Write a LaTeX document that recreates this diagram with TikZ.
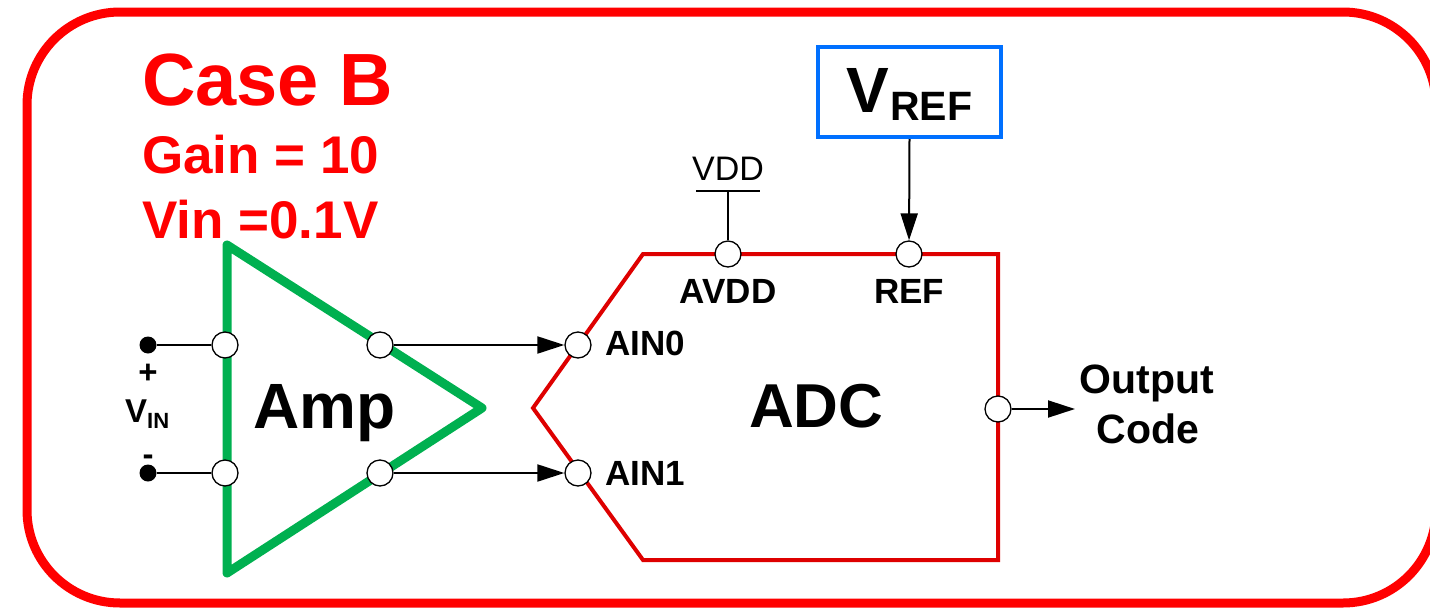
\documentclass[tikz,border=0pt]{standalone}
\usepackage{fontspec}
\setmainfont{Liberation Sans}
\usetikzlibrary{arrows.meta}
\definecolor{ampgreen}{RGB}{0,176,80}
\definecolor{adcred}{RGB}{222,0,0}
\definecolor{refblue}{RGB}{0,112,255}
\newcommand{\fs}[1]{\fontsize{#1}{#1}\selectfont}
\tikzset{
  pinc/.style={circle, draw=black, fill=white, line width=1.3pt, minimum size=26pt, inner sep=0pt},
  dotc/.style={circle, fill=black, minimum size=17pt, inner sep=0pt},
  wire/.style={black, line width=2pt},
  arr/.style={wire, -{Triangle[length=27pt, width=17pt]}},
  lbl/.style={inner sep=0pt, font=\bfseries},
}
\begin{document}
\begin{tikzpicture}[x=1pt, y=-1pt]
\useasboundingbox (0,0) rectangle (1430,608);
\clip (0,0) rectangle (1430,608);
% outer frame
\draw[red, line width=9pt, rounded corners=93pt] (27,12) rectangle (1436,603);
% title texts
\node[lbl, red, anchor=base west] (title) at (142,105) {\fs{74}Case B};
\node[lbl, red, anchor=base west] (gain) at (142,173) {\fs{53}Gain = 10};
\node[lbl, red, anchor=base west] (vin) at (142,238) {\fs{53}Vin =0.1V};
% ADC body
\draw[adcred, line width=4pt, line join=miter] (643,254) -- (998,254) -- (998,560) -- (643,560) -- (533,408) -- cycle;
% amp triangle
\draw[ampgreen, line width=9pt, line join=round] (227,245) -- (482,408) -- (227,573) -- cycle;
% VREF box
\node[draw=refblue, line width=4pt, minimum width=183pt, minimum height=90pt, inner sep=0pt] (vref) at (909.5,92) {};
\node[lbl, anchor=base west] (vrefV) at (846,112) {\fs{64}V};
\node[lbl, anchor=base west] (vrefR) at (890,120) {\fs{41}REF};
% pins
\node[dotc] (dp) at (148,345) {};
\node[dotc] (dm) at (148,473) {};
\node[pinc] (ip) at (225,345) {};
\node[pinc] (im) at (225,473) {};
\node[pinc] (o0) at (380,345) {};
\node[pinc] (o1) at (380,473) {};
\node[pinc] (ain0) at (578,345) {};
\node[pinc] (ain1) at (578,473) {};
\node[pinc] (avdd) at (728,254) {};
\node[pinc] (ref) at (909,254) {};
\node[pinc] (outp) at (998,409) {};
\coordinate (vddtop) at (728,191);
\coordinate (outend) at (1075,409);
% wires
\draw[wire] (dp) -- (ip);
\draw[wire] (dm) -- (im);
\draw[arr] (o0) -- (ain0);
\draw[arr] (o1) -- (ain1);
\draw[arr] (vref.south) -- (ref);
\draw[arr] (outp) -- (outend);
\draw[wire] (vddtop) -- (avdd);
\draw[wire] (696,191) -- (760,191);
% labels
\node[inner sep=0pt, anchor=base] (vdd) at (728,180) {\fs{34}VDD};
\node[lbl, anchor=base] (plus) at (148,383) {\fs{33}+};
\node[lbl, anchor=base] (minus) at (148,465) {\fs{33}-};
\node[lbl, anchor=base west] (vinV) at (125,422) {\fs{33}V};
\node[lbl, anchor=base west] (vinI) at (147,428) {\fs{22}IN};
\node[lbl, anchor=base west] (amp) at (253,428) {\fs{64}Amp};
\node[lbl, anchor=base west] (adc) at (749,427) {\fs{62}ADC};
\node[lbl, anchor=base] (avddl) at (728,303) {\fs{35}AVDD};
\node[lbl, anchor=base] (refl) at (909,303) {\fs{35}REF};
\node[lbl, anchor=base west] (ain0l) at (605,355) {\fs{35}AIN0};
\node[lbl, anchor=base west] (ain1l) at (605,485) {\fs{35}AIN1};
\node[lbl, anchor=base] (outl1) at (1147,393) {\fs{41}Output};
\node[lbl, anchor=base] (outl2) at (1148,443) {\fs{41}Code};
\end{tikzpicture}
\end{document}
